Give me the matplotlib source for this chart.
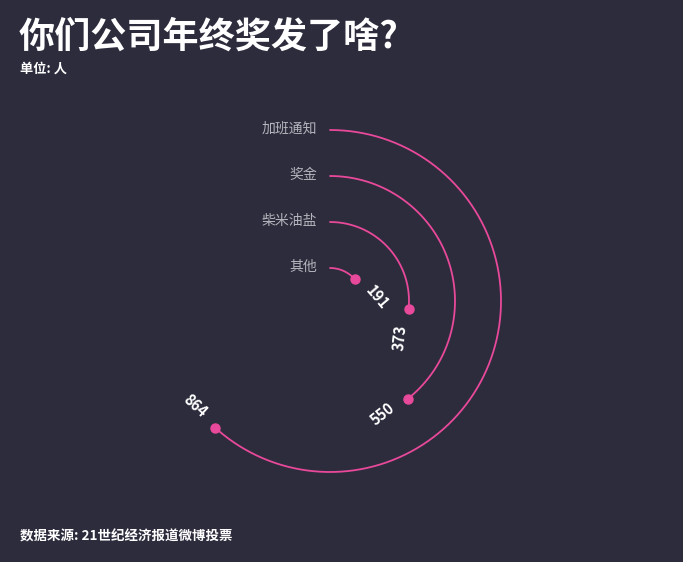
import numpy as np
import matplotlib
matplotlib.use("Agg")
import matplotlib.pyplot as plt

plt.rcParams["font.family"] = ["Noto Sans CJK SC", "DejaVu Sans"]

TITLE = "你们公司年终奖发了啥?"
SUBTITLE = "单位: 人"
SOURCE = "数据来源: 21世纪经济报道微博投票"

# outer ring first
categories = ["加班通知", "奖金", "柴米油盐", "其他"]
values = [864, 550, 373, 191]
ANGLE_MAX = 1400  # value that would close the full circle

BG = "#2d2c3d"
PINK = "#e8499a"
LABEL_GREY = "#b4b4bc"

W, H = 683, 562
CX, CY = 330, 301
R_OUT = 200  # radius of the polar axes in pixels


def main() -> None:
    fig = plt.figure(figsize=(W / 100, H / 100), dpi=100, facecolor=BG)
    ax = fig.add_axes(
        [(CX - R_OUT) / W, (H - CY - R_OUT) / H, 2 * R_OUT / W, 2 * R_OUT / H],
        projection="polar",
    )
    ax.set_facecolor("none")
    ax.set_theta_zero_location("N")
    ax.set_theta_direction(-1)
    ax.set_ylim(0, R_OUT)
    ax.set_axis_off()

    n = len(categories)
    radii = [33 + 46 * (n - 1 - i) for i in range(n)]

    for cat, val, r in zip(categories, values, radii):
        end = val / ANGLE_MAX * 2 * np.pi
        theta = np.linspace(0, end, 200)
        ax.plot(theta, np.full_like(theta, r), color=PINK, lw=1.3,
                solid_capstyle="round")
        ax.plot([end], [r], "o", color=PINK, ms=6.5)

        ax.annotate(cat, xy=(0, r), xytext=(-9, 1), textcoords="offset points",
                    ha="right", va="center", color=LABEL_GREY, fontsize=10)

        lab_r = max(r, 47)
        lab_t = end + 30 / lab_r
        rot = -np.degrees(end)
        while rot < -90:
            rot += 180
        ax.text(lab_t, lab_r, str(val), ha="center", va="center",
                rotation=rot, rotation_mode="anchor", color="white",
                fontsize=10.5, fontweight="bold")

    fig.text(19 / W, 1 - 37 / H, TITLE, color="white", fontsize=26,
             fontweight="bold", ha="left", va="center")
    fig.text(20 / W, 1 - 69 / H, SUBTITLE, color="white", fontsize=9.5,
             fontweight="bold", ha="left", va="center")
    fig.text(20 / W, 1 - 537 / H, SOURCE, color="white", fontsize=9.7,
             fontweight="bold", ha="left", va="center")

    fig.savefig("out.png", dpi=100, facecolor=BG)
    plt.close(fig)


if __name__ == "__main__":
    main()
